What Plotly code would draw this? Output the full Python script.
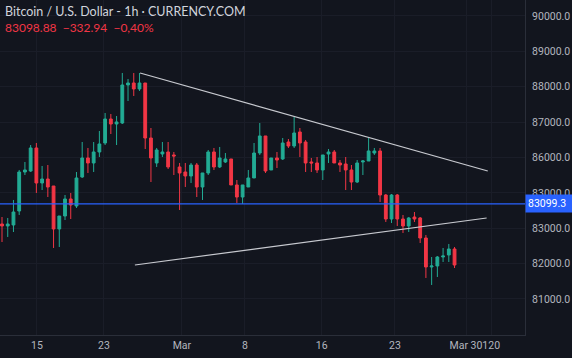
import plotly.graph_objects as go

# ---- data ----
opens = [83120, 83064, 83092, 83488, 84590, 84618, 85269, 84279, 84392, 84194,
         82979, 83346, 83827, 83629, 84449, 84986, 84845, 85156, 85410, 86088,
         85947, 85975, 87050, 87106, 86937, 87106, 85551, 84845, 85099, 85156,
         85071, 84732, 84590, 84477, 84788, 84166, 84562, 85156, 84732, 84873,
         84958, 84223, 83883, 84166, 84421, 85127, 85608, 84647, 84986, 84958,
         85438, 85325, 85721, 85438, 84873, 84845, 84647, 85099, 85156, 84845,
         84816, 84647, 84307, 84873, 84901, 85127, 85184, 83940, 83261, 83940,
         83261, 83064, 83318, 83290, 82724, 81905, 81933, 82187, 82244, 82413]
highs = [83318, 83290, 83799, 84647, 84873, 85353, 85410, 84760, 84788, 84194,
         83346, 83940, 83997, 84590, 85438, 85269, 85438, 85749, 86258, 86230,
         86173, 87389, 87219, 87389, 87389, 87106, 85834, 85269, 85438, 85438,
         85156, 84845, 84845, 84845, 84845, 84562, 85212, 85269, 85297, 85127,
         84958, 84364, 84223, 84647, 85410, 85975, 85608, 84986, 85156, 85551,
         85523, 86145, 85834, 85495, 84986, 85014, 85071, 85240, 85212, 84929,
         85014, 84788, 84929, 84929, 85551, 85269, 85269, 83968, 83968, 83968,
         83375, 83318, 83459, 83318, 82809, 82187, 82215, 82442, 82555, 82470]
lows = [82611, 82753, 82894, 83375, 84505, 84590, 83997, 84081, 83883, 82442,
        82470, 83233, 83261, 83572, 84421, 84562, 84590, 85014, 85353, 85664,
        85353, 85947, 86597, 86739, 86880, 85240, 84307, 84732, 85014, 84675,
        84505, 83516, 84166, 84279, 83883, 83799, 84505, 84647, 84703, 84845,
        84223, 83714, 83686, 84166, 84421, 85071, 84562, 84647, 84703, 84929,
        85269, 85269, 85014, 84590, 84590, 84562, 84364, 84845, 84986, 84590,
        84081, 84081, 84279, 84505, 84901, 85071, 83742, 83177, 83148, 83064,
        82866, 82894, 83177, 82583, 81594, 81396, 81622, 82046, 82046, 81876]
closes = [83064, 83120, 83459, 84590, 84647, 85269, 84279, 84392, 84166, 82979,
          83346, 83827, 83657, 84421, 84986, 84845, 85156, 85382, 86088, 85947,
          86004, 87050, 87106, 86937, 87106, 85551, 84986, 85212, 85156, 84732,
          85043, 84562, 84477, 84788, 84166, 84562, 85156, 84732, 84986, 84958,
          84223, 83883, 84223, 84421, 85127, 85608, 84618, 84986, 84929, 85410,
          85325, 85693, 85410, 84845, 84845, 84647, 85071, 85156, 84845, 84788,
          84647, 84307, 84845, 84901, 85184, 85184, 83940, 83261, 83940, 83261,
          83064, 83290, 83261, 82724, 81905, 81933, 82187, 82215, 82413, 81961]

price_ticks = [89000, 88000, 87000, 86000, 85000, 84000, 83000, 82000, 81000]
price_tick_labels = ["90000.0", "89000.0", "88000.0", "87000.0", "86000.0",
                     "83000.0", "83000.0", "82000.0", "81000.0"]
date_ticks = [6.1, 17.8, 31.4, 42.4, 55.8, 68.6, 81.0, 85.4]
date_tick_labels = ["15", "23", "Mar", "8", "16", "23", "Mar 30", "120"]

price_line_level = 83686
price_line_label = "83099.3"

upper_trend_x = [24.1, 84.8]
upper_trend_y = [87389, 84618]
lower_trend_x = [23.2, 84.6]
lower_trend_y = [81961, 83290]

title_text = "Bitcoin / U.S. Dollar - 1h · CURRENCY.COM"
quote_text = "83098.88  \u2212332.94  \u22120,40%"

# ---- styles ----
BG = "#12151e"
GRID = "#1a1d28"
UP = "#22ab94"
DOWN = "#f23645"
TXT = "#b2b5be"
FONT = "Roboto"

idx = list(range(len(opens)))

fig = go.Figure()
fig.add_trace(go.Candlestick(
    x=idx, open=opens, high=highs, low=lows, close=closes,
    increasing=dict(line=dict(color=UP, width=1), fillcolor=UP),
    decreasing=dict(line=dict(color=DOWN, width=1), fillcolor=DOWN),
    whiskerwidth=0, hoverinfo="skip", showlegend=False,
))
fig.add_trace(go.Scatter(x=upper_trend_x, y=upper_trend_y, mode="lines",
                         line=dict(color="#c8cad0", width=1.2), showlegend=False, hoverinfo="skip"))
fig.add_trace(go.Scatter(x=lower_trend_x, y=lower_trend_y, mode="lines",
                         line=dict(color="#c8cad0", width=1.2), showlegend=False, hoverinfo="skip"))

fig.add_hline(y=price_line_level, line=dict(color="#2962ff", width=1.2))

fig.add_annotation(xref="paper", yref="y", x=1.0, y=price_line_level, xanchor="left",
                   yanchor="middle", text=price_line_label, showarrow=False,
                   bgcolor="#2962ff", font=dict(color="white", size=10.5, family=FONT),
                   borderpad=2, width=42, align="left")

fig.add_annotation(xref="paper", yref="paper", x=0.006, y=1 - 11 / 335, xanchor="left",
                   yanchor="middle", text=title_text, showarrow=False,
                   font=dict(color="#d1d4dc", size=12.5, family="Lato"))
fig.add_annotation(xref="paper", yref="paper", x=0.006, y=1 - 28 / 335, xanchor="left",
                   yanchor="middle", text=quote_text, showarrow=False,
                   font=dict(color=DOWN, size=12, family="Lato"))

fig.update_layout(
    width=572, height=358,
    margin=dict(l=0, r=47, t=0, b=23, autoexpand=False),
    paper_bgcolor=BG, plot_bgcolor=BG,
    hovermode=False,
    xaxis=dict(range=[-0.35, 91.3], tickvals=date_ticks, ticktext=date_tick_labels,
               tickangle=0, automargin=False,
               showgrid=True, gridcolor=GRID, zeroline=False, rangeslider=dict(visible=False),
               tickfont=dict(color=TXT, size=10.5, family=FONT), ticks="",
               showline=True, linecolor="#2a2e39"),
    yaxis=dict(side="right", range=[79982, 89452], tickvals=price_ticks, automargin=False,
               ticktext=price_tick_labels, showgrid=True, gridcolor=GRID, zeroline=False,
               tickfont=dict(color=TXT, size=10.5, family=FONT), ticks="",
               showline=True, linecolor="#2a2e39", ticklabelstandoff=4),
)

fig.write_html("out.html", config={"displayModeBar": False},
               post_script="document.body.style.margin='0';document.body.style.overflow='hidden';document.body.style.background='#12151e';")
